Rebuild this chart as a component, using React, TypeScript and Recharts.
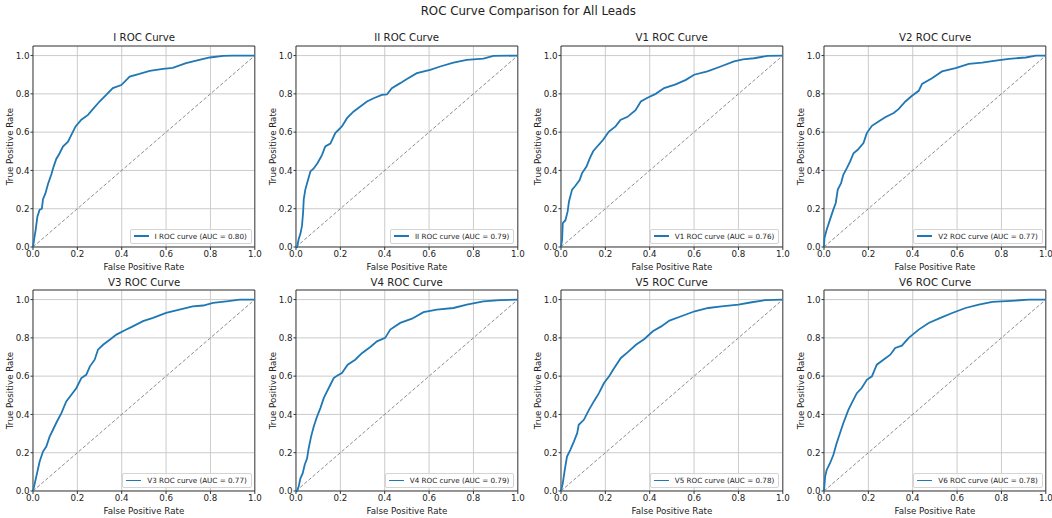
import { LineChart, Line, XAxis, YAxis, CartesianGrid, ReferenceArea, Label } from 'recharts'

const LEADS = ['I', 'II', 'V1', 'V2', 'V3', 'V4', 'V5', 'V6']
const AUC = [0.8, 0.79, 0.76, 0.77, 0.77, 0.79, 0.78, 0.78]
const TICKS = [0, 0.2, 0.4, 0.6, 0.8, 1.0]

// [fpr, tpr] pairs
const ROC_I = [
  [0, 0], [0.005, 0.04], [0.012, 0.09], [0.02, 0.16], [0.03, 0.195], [0.04, 0.2], [0.045, 0.25],
  [0.056, 0.28], [0.068, 0.33], [0.083, 0.38], [0.093, 0.42], [0.105, 0.46], [0.12, 0.49],
  [0.135, 0.525], [0.158, 0.55], [0.173, 0.586], [0.192, 0.63], [0.218, 0.665], [0.248, 0.69],
  [0.27, 0.72], [0.3, 0.76], [0.33, 0.795], [0.36, 0.83], [0.398, 0.846], [0.436, 0.89],
  [0.48, 0.904], [0.526, 0.92], [0.586, 0.93], [0.63, 0.936], [0.69, 0.96], [0.75, 0.977],
  [0.797, 0.99], [0.857, 0.998], [0.9, 1.0], [1, 1],
]
const ROC_II = [
  [0, 0], [0.005, 0], [0.012, 0.04], [0.02, 0.07], [0.027, 0.11], [0.032, 0.18], [0.035, 0.25],
  [0.042, 0.3], [0.054, 0.35], [0.065, 0.395], [0.08, 0.41], [0.098, 0.44], [0.117, 0.48],
  [0.132, 0.525], [0.155, 0.54], [0.177, 0.595], [0.207, 0.63], [0.23, 0.673], [0.26, 0.708],
  [0.29, 0.734], [0.32, 0.76], [0.35, 0.777], [0.387, 0.795], [0.41, 0.797], [0.432, 0.83],
  [0.47, 0.856], [0.5, 0.878], [0.545, 0.908], [0.605, 0.925], [0.65, 0.943], [0.71, 0.963],
  [0.77, 0.977], [0.845, 0.984], [0.89, 0.998], [1, 1],
]
const ROC_V1 = [
  [0, 0], [0.005, 0.04], [0.008, 0.125], [0.02, 0.14], [0.03, 0.186], [0.036, 0.238], [0.05, 0.3],
  [0.065, 0.32], [0.084, 0.35], [0.095, 0.386], [0.115, 0.42], [0.13, 0.464], [0.145, 0.5],
  [0.17, 0.534], [0.19, 0.56], [0.216, 0.603], [0.246, 0.63], [0.268, 0.664], [0.3, 0.68],
  [0.336, 0.715], [0.36, 0.76], [0.39, 0.78], [0.427, 0.8], [0.465, 0.83], [0.517, 0.85],
  [0.563, 0.873], [0.6, 0.9], [0.66, 0.917], [0.72, 0.943], [0.78, 0.97], [0.82, 0.98],
  [0.87, 0.986], [0.93, 0.998], [1, 1],
]
const ROC_V2 = [
  [0, 0], [0.002, 0.047], [0.012, 0.09], [0.027, 0.143], [0.042, 0.195], [0.053, 0.23],
  [0.062, 0.3], [0.077, 0.334], [0.087, 0.377], [0.103, 0.412], [0.118, 0.447], [0.133, 0.49],
  [0.152, 0.508], [0.178, 0.543], [0.193, 0.595], [0.216, 0.633], [0.246, 0.656], [0.276, 0.678],
  [0.314, 0.7], [0.336, 0.72], [0.367, 0.76], [0.397, 0.79], [0.427, 0.816], [0.442, 0.852],
  [0.487, 0.882], [0.532, 0.917], [0.593, 0.934], [0.653, 0.957], [0.713, 0.963], [0.774, 0.974],
  [0.834, 0.983], [0.91, 0.99], [0.955, 1.0], [1, 1],
]
const ROC_V3 = [
  [0, 0], [0.008, 0.04], [0.018, 0.092], [0.03, 0.154], [0.045, 0.206], [0.06, 0.232],
  [0.075, 0.284], [0.09, 0.32], [0.108, 0.363], [0.128, 0.407], [0.15, 0.468], [0.173, 0.503],
  [0.195, 0.537], [0.218, 0.59], [0.24, 0.607], [0.256, 0.65], [0.278, 0.686], [0.293, 0.738],
  [0.316, 0.764], [0.346, 0.79], [0.376, 0.817], [0.414, 0.84], [0.45, 0.86], [0.496, 0.887],
  [0.541, 0.904], [0.6, 0.93], [0.66, 0.948], [0.72, 0.965], [0.767, 0.969], [0.812, 0.983],
  [0.872, 0.991], [0.932, 1.0], [1, 1],
]
const ROC_V4 = [
  [0, 0], [0.005, 0], [0.012, 0.023], [0.02, 0.066], [0.03, 0.092], [0.039, 0.136], [0.05, 0.171],
  [0.057, 0.223], [0.068, 0.284], [0.08, 0.337], [0.095, 0.389], [0.11, 0.433], [0.125, 0.485],
  [0.14, 0.52], [0.155, 0.555], [0.17, 0.59], [0.185, 0.602], [0.207, 0.616], [0.233, 0.66],
  [0.267, 0.686], [0.297, 0.72], [0.335, 0.752], [0.365, 0.782], [0.402, 0.8], [0.425, 0.843],
  [0.47, 0.878], [0.523, 0.9], [0.575, 0.934], [0.635, 0.948], [0.71, 0.956], [0.77, 0.974],
  [0.845, 0.991], [0.92, 0.997], [1, 1],
]
const ROC_V5 = [
  [0, 0], [0.008, 0.04], [0.017, 0.11], [0.027, 0.18], [0.042, 0.215], [0.058, 0.258],
  [0.073, 0.302], [0.08, 0.346], [0.103, 0.372], [0.126, 0.424], [0.148, 0.468], [0.171, 0.511],
  [0.194, 0.564], [0.217, 0.599], [0.24, 0.642], [0.27, 0.695], [0.3, 0.724], [0.338, 0.764],
  [0.376, 0.794], [0.414, 0.834], [0.452, 0.86], [0.489, 0.89], [0.542, 0.913], [0.603, 0.939],
  [0.664, 0.956], [0.724, 0.965], [0.8, 0.974], [0.86, 0.986], [0.921, 0.997], [1, 1],
]
const ROC_V6 = [
  [0, 0], [0.005, 0.075], [0.012, 0.11], [0.027, 0.145], [0.042, 0.188], [0.057, 0.25],
  [0.072, 0.302], [0.087, 0.354], [0.11, 0.424], [0.125, 0.459], [0.148, 0.511], [0.17, 0.538],
  [0.193, 0.581], [0.216, 0.599], [0.238, 0.66], [0.268, 0.686], [0.299, 0.712], [0.321, 0.747],
  [0.351, 0.759], [0.382, 0.8], [0.427, 0.843], [0.472, 0.878], [0.525, 0.904], [0.578, 0.93],
  [0.638, 0.956], [0.698, 0.974], [0.759, 0.988], [0.864, 0.995], [0.925, 1], [1, 1],
]
const CURVES = [ROC_I, ROC_II, ROC_V1, ROC_V2, ROC_V3, ROC_V4, ROC_V5, ROC_V6]
const CHANCE = [[0, 0], [1, 1]]

// layout
const PLOT_LEFT = [33.3, 295.8, 560.8, 824.3]
const PLOT_TOP = [46, 290.3]
const PLOT_W = 221.8
const PLOT_H = 201
const TITLE_Y = [37.7, 282.7]
const FONT = '"DejaVu Sans", sans-serif'
const BLUE = '#1f77b4'

const toRows = (pts: number[][]) => pts.map(([fpr, tpr]) => ({ fpr, tpr }))
const fmt = (v: number) => v.toFixed(1)

function Panel({ idx }: { idx: number }) {
  const col = idx % 4
  const row = Math.floor(idx / 4)
  const left = PLOT_LEFT[col]
  const top = PLOT_TOP[row]
  const tick = { fontSize: 8.7, fill: '#222', fontFamily: FONT }
  return (
    <>
      <div style={{
        position: 'absolute', left, top: TITLE_Y[row] - 7, width: PLOT_W, textAlign: 'center',
        fontSize: 10.2, lineHeight: '14px', color: '#222',
      }}>
        {LEADS[idx]} ROC Curve
      </div>
      <div style={{ position: 'absolute', left: left - 33, top: top - 4 }}>
        <LineChart width={33 + PLOT_W + 10} height={4 + PLOT_H + 28} margin={{ top: 4, right: 10, bottom: 0, left: 7 }}>
          <CartesianGrid stroke="#c6c6c6" strokeWidth={0.9} />
          <XAxis
            type="number" dataKey="fpr" domain={[0, 1]} ticks={TICKS} interval={0} tickFormatter={fmt}
            height={28} tick={tick} tickSize={3} tickMargin={1} axisLine={false} tickLine={{ stroke: '#333' }}
          >
            <Label value="False Positive Rate" position="insideBottom" offset={5}
              style={{ fontSize: 8.7, fill: '#222', fontFamily: FONT }} />
          </XAxis>
          <YAxis
            type="number" domain={[0, 1.05]} ticks={TICKS} interval={0} tickFormatter={fmt}
            width={26} tick={tick} tickSize={2.5} tickMargin={1} axisLine={false} tickLine={{ stroke: '#333' }}
          >
            <Label value="True Positive Rate" angle={-90} position="insideLeft" offset={2.5}
              style={{ fontSize: 8.7, fill: '#222', fontFamily: FONT, textAnchor: 'middle' }} />
          </YAxis>
          <ReferenceArea x1={0} x2={1} y1={0} y2={1.05} fill="none" fillOpacity={0} stroke="#333" strokeWidth={0.9} ifOverflow="visible" />
          <Line data={toRows(CHANCE)} dataKey="tpr" stroke="#7f7f7f" strokeWidth={0.9} strokeDasharray="3.5 2"
            dot={false} activeDot={false} isAnimationActive={false} />
          <Line data={toRows(CURVES[idx])} dataKey="tpr" stroke={BLUE} strokeWidth={1.8}
            dot={false} activeDot={false} isAnimationActive={false} />
        </LineChart>
      </div>
      <div style={{
        position: 'absolute', right: 1052 - (left + PLOT_W - 3.3), top: top + PLOT_H - 3.3 - 15, height: 15,
        boxSizing: 'border-box', display: 'flex', alignItems: 'center', padding: '0 4px 0 3px',
        border: '1px solid #d4d4d4', borderRadius: 2, background: 'rgba(255,255,255,0.8)',
      }}>
        <span style={{ display: 'inline-block', width: 15, height: 1.8, background: BLUE, marginRight: 6 }} />
        <span style={{ fontSize: 7.2, whiteSpace: 'nowrap', color: '#222' }}>
          {LEADS[idx]} ROC curve (AUC = {AUC[idx].toFixed(2)})
        </span>
      </div>
    </>
  )
}

export default function App() {
  return (
    <div style={{ position: 'absolute', left: 0, top: 0, width: 1052, height: 518, background: '#fff', fontFamily: FONT, overflow: 'hidden' }}>
      <div style={{
        position: 'absolute', left: 528.3, top: 3.7, transform: 'translateX(-50%)', whiteSpace: 'nowrap',
        fontSize: 11.8, lineHeight: '14px', color: '#222',
      }}>
        ROC Curve Comparison for All Leads
      </div>
      {LEADS.map((_, i) => <Panel key={i} idx={i} />)}
    </div>
  )
}
